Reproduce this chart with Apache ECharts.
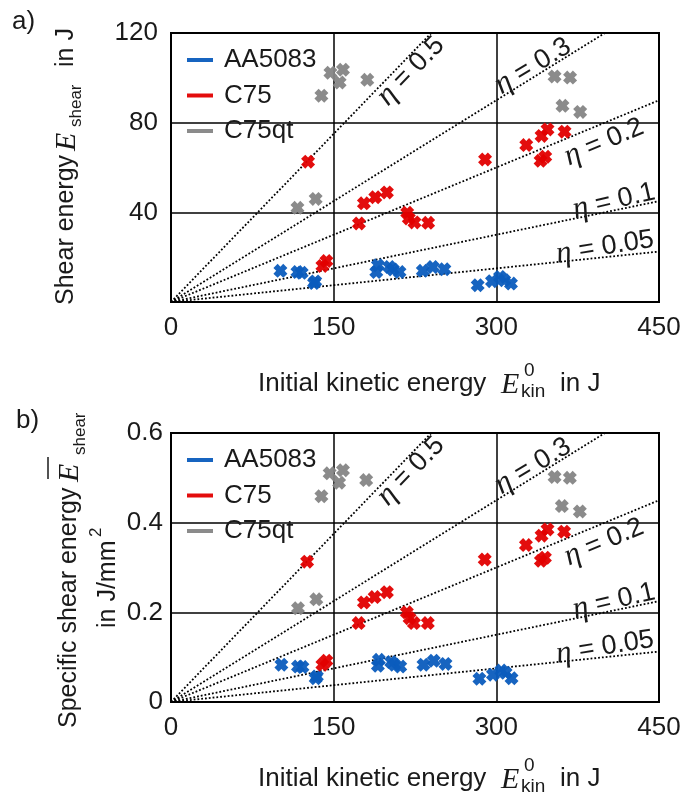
<!DOCTYPE html>
<html>
<head>
<meta charset="utf-8">
<script src="https://cdn.jsdelivr.net/npm/echarts@6/dist/echarts.min.js"></script>
<style>
  html, body { margin: 0; padding: 0; background: #fff; }
  #chart { width: 689px; height: 795px; }
</style>
</head>
<body>
<div id="chart"></div>
<script>
// ---- data ---------------------------------------------------------------
const materials = ['AA5083', 'C75', 'C75qt'];
const etaValues = [0.5, 0.3, 0.2, 0.1, 0.05];
const shearArea = 200; // mm², relates E_shear to specific shear energy
const xTicks = [0, 150, 300, 450];
const yTicksEnergy = [0, 40, 80, 120];
const yTicksSpecific = [0, 0.2, 0.4, 0.6];

// panel a) shear energy in J  vs. initial kinetic energy in J
const energyAA5083 = [[100.9,13.9],[116.6,13.4],[120.5,13.0],[131.9,8.5],[133,9.2],[190.8,16.4],[189.3,13.4],[201.5,15.6],[204.6,14.5],[210.7,13.4],[232.2,13.9],[241.4,15.6],[252.1,14.6],[282.8,7.5],[296,9.3],[303.4,11.2],[307.3,9.7],[313.5,8.2]];
const energyC75 = [[126.4,62.6],[139.6,16.1],[143.3,18.3],[173.3,35.0],[177.9,44.0],[188.4,46.7],[199.1,48.9],[217.8,39.8],[219.3,37.3],[224.5,35.5],[237.1,35.3],[289.6,63.6],[327.6,70.0],[341.7,74.1],[347.2,77.0],[362.9,76.0],[340.8,63.0],[345.1,64.8]];
const energyC75qt = [[116.6,42.0],[133.4,46.0],[138.7,92.0],[147,102.3],[155.5,97.9],[158.6,103.6],[181,99.1],[353.7,100.6],[368,100.1],[361,87.5],[377.3,84.8]];

// panel b) specific shear energy in J/mm²  vs. initial kinetic energy in J
const specificAA5083 = [[101.8,0.083],[117.1,0.079],[121.2,0.078],[133.4,0.053],[134.5,0.057],[191.7,0.094],[190.8,0.081],[203.1,0.089],[206.1,0.083],[211.4,0.079],[232.8,0.083],[242.3,0.092],[253.1,0.085],[284.4,0.052],[296.9,0.061],[304.6,0.070],[308.5,0.065],[314,0.053]];
const specificC75 = [[125.5,0.313],[139.6,0.083],[143.3,0.092],[173,0.176],[177.9,0.222],[187.8,0.234],[199.1,0.245],[217.5,0.200],[220,0.187],[224,0.176],[236.8,0.176],[289.3,0.318],[327.3,0.350],[341.7,0.371],[347.2,0.385],[362.5,0.380],[341.1,0.315],[344.8,0.322]];
const specificC75qt = [[117.1,0.209],[134,0.229],[138.7,0.459],[146.3,0.510],[155,0.489],[158.6,0.517],[180,0.495],[353.7,0.502],[367.8,0.500],[360.4,0.437],[377,0.425]];

// ---- styling ------------------------------------------------------------
const SANS = '"Liberation Sans", Arial, sans-serif';
const SERIF = '"Liberation Serif", "Times New Roman", serif';
const INK = '#1a1a1a';
const colors = { AA5083: '#0b5cbd', C75: '#e10000', C75qt: '#858585' };
const crossSymbol = 'path://M3,0L5,2L7,0L10,3L8,5L10,7L7,10L5,8L3,10L0,7L2,5L0,3Z';

const panels = [
  { top: 33, yMax: 120, yStep: 40, yTicks: yTicksEnergy, scale: 1,
    data: { AA5083: energyAA5083, C75: energyC75, C75qt: energyC75qt },
    fmt: v => (v === 0 ? '' : String(v)), labelMargin: 13 },
  { top: 433, yMax: 0.6, yStep: 0.2, yTicks: yTicksSpecific, scale: 1 / shearArea,
    data: { AA5083: specificAA5083, C75: specificC75, C75qt: specificC75qt },
    fmt: v => (v === 0 ? '0' : v.toFixed(1)), labelMargin: 8 }
];

const grids = [], xAxes = [], yAxes = [], series = [], legends = [];

panels.forEach((p, i) => {
  grids.push({ left: 171, width: 488, top: p.top, height: 269, show: true,
    borderColor: '#000', borderWidth: 2, backgroundColor: 'transparent' });
  xAxes.push({ gridIndex: i, type: 'value', min: xTicks[0], max: xTicks[xTicks.length - 1], interval: 150,
    axisLine: { show: true, lineStyle: { color: '#000', width: 2 } },
    axisTick: { show: false },
    axisLabel: { fontFamily: SANS, fontSize: 26, color: INK, margin: 13 },
    splitLine: { show: true, lineStyle: { color: '#000', width: 1.5 } } });
  yAxes.push({ gridIndex: i, type: 'value', min: 0, max: p.yMax, interval: p.yStep,
    axisLine: { show: true, lineStyle: { color: '#000', width: 2 } },
    axisTick: { show: false },
    axisLabel: { fontFamily: SANS, fontSize: 26, color: INK, margin: p.labelMargin, formatter: p.fmt },
    splitLine: { show: true, lineStyle: { color: '#000', width: 1.5 } } });

  // constant-efficiency reference lines  E_shear = eta * E_kin
  etaValues.forEach(eta => {
    series.push({ type: 'line', name: 'eta ' + eta, xAxisIndex: i, yAxisIndex: i,
      data: [[0, 0], [450, eta * 450 * p.scale]], symbol: 'none', clip: true, silent: true, z: 3,
      lineStyle: { color: '#000', width: 1.8, type: [1.8, 2] } });
  });

  materials.forEach(m => {
    series.push({ type: 'scatter', name: m, xAxisIndex: i, yAxisIndex: i, data: p.data[m],
      symbol: crossSymbol, symbolSize: 14, z: 5,
      itemStyle: { color: colors[m], opacity: 0.95 } });
  });

  legends.push({ data: materials, orient: 'vertical', left: 182, top: p.top + 9,
    icon: 'rect', itemWidth: 26, itemHeight: 4, itemGap: 9.5, selectedMode: false,
    textStyle: { fontFamily: SANS, fontSize: 26, color: INK, lineHeight: 20, padding: [0, 0, 0, 6] } });
});

// ---- text helpers -------------------------------------------------------
function txt(x, y, text, font, extra) {
  return Object.assign({ type: 'text', x: x, y: y, z: 100,
    style: { text: text, font: font, fill: INK, align: 'left', textAlign: 'left',
      verticalAlign: 'middle', textVerticalAlign: 'middle' } }, extra || {});
}

function xTitle(cy) {
  return { type: 'group', children: [
    txt(258, cy, 'Initial kinetic energy', '26px ' + SANS),
    txt(501, cy + 1, 'E', 'italic 30px ' + SERIF),
    txt(524, cy - 13, '0', '19px ' + SANS),
    txt(521, cy + 8, 'kin', '19px ' + SANS),
    txt(560, cy, 'in J', '26px ' + SANS)
  ] };
}

const etaLabelSpots = [
  { dx: 240, dy: 38, rot: 46 },
  { dx: 362, dy: 33, rot: 31 },
  { dx: 433, dy: 109, rot: 23 },
  { dx: 443, dy: 168, rot: 13 },
  { dx: 434, dy: 214, rot: 9 }
];

function etaLabels(top) {
  return etaValues.map((eta, k) => {
    const s = etaLabelSpots[k];
    return { type: 'text', x: 171 + s.dx, y: top + s.dy, rotation: s.rot * Math.PI / 180, z: 100,
      style: { text: '{g|η} = ' + eta, font: '27px ' + SANS, fill: INK,
        align: 'center', textAlign: 'center', verticalAlign: 'middle', textVerticalAlign: 'middle',
        rich: { g: { fontFamily: SERIF, fontStyle: 'italic', fontSize: 31, fill: INK, color: INK } } } };
  });
}

const graphics = [
  txt(12, 22, 'a)', '26px ' + SANS),
  txt(16, 421, 'b)', '26px ' + SANS),
  xTitle(384),
  xTitle(779),
  // panel a) y title, read bottom-to-top
  { type: 'group', x: 66, y: 305, rotation: Math.PI / 2, children: [
    txt(0, 0, 'Shear energy', '25px ' + SANS),
    txt(154, 1, 'E', 'italic 30px ' + SERIF),
    txt(178, 10, 'shear', '17px ' + SANS),
    txt(238, 0, 'in J', '25px ' + SANS)
  ] },
  // panel b) y title, two lines
  { type: 'group', x: 69, y: 728, rotation: Math.PI / 2, children: [
    txt(0, 0, 'Specific shear energy', '25px ' + SANS),
    txt(246, 1, 'E', 'italic 30px ' + SERIF),
    { type: 'line', z: 100, shape: { x1: 249, y1: -21, x2: 271, y2: -21 },
      style: { stroke: INK, lineWidth: 1.5 } },
    txt(273, 11, 'shear', '17px ' + SANS),
    txt(100, 39, 'in J/mm', '25px ' + SANS),
    txt(191, 27, '2', '17px ' + SANS)
  ] }
].concat(etaLabels(33), etaLabels(433));

const chart = echarts.init(document.getElementById('chart'), null, { renderer: 'canvas' });
chart.setOption({
  animation: false,
  backgroundColor: '#fff',
  grid: grids,
  xAxis: xAxes,
  yAxis: yAxes,
  legend: legends,
  series: series,
  graphic: graphics
});
</script>
</body>
</html>
